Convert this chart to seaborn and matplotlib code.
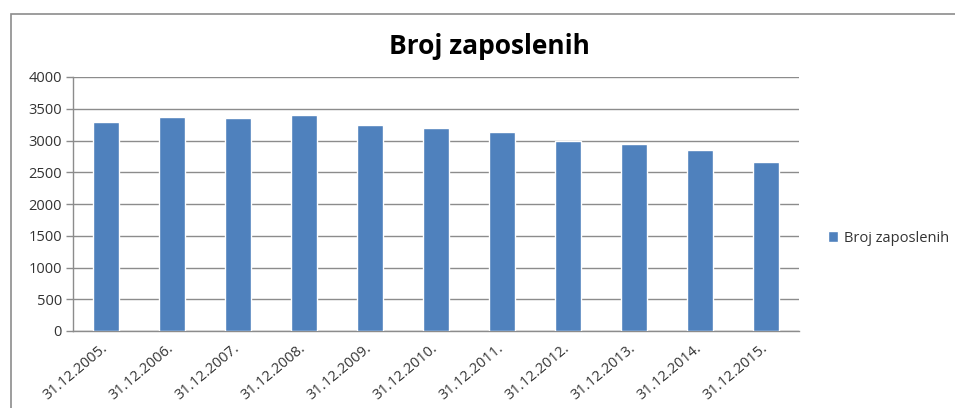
import pandas as pd
import numpy as np
import seaborn as sns
from matplotlib import pyplot as plt
from matplotlib.patches import Rectangle

# values
dates = ['31.12.2005.', '31.12.2006.', '31.12.2007.', '31.12.2008.', '31.12.2009.',
         '31.12.2010.', '31.12.2011.', '31.12.2012.', '31.12.2013.', '31.12.2014.',
         '31.12.2015.']
employees = [3284, 3370, 3347, 3395, 3248, 3190, 3133, 2995, 2943, 2853, 2669]
series_name = 'Broj zaposlenih'
y_ticks = [0, 500, 1000, 1500, 2000, 2500, 3000, 3500, 4000]

data = pd.DataFrame({'datum': dates, 'broj': employees})

sns.set_style('white')
plt.rcParams['font.family'] = ['Open Sans', 'DejaVu Sans']

fig = plt.figure(figsize=(9.55, 4.08), dpi=100)
ax = fig.add_axes([73 / 955, 1 - 331 / 408, (799 - 73) / 955, (331 - 77) / 408])

sns.barplot(data=data, x='datum', y='broj', color='#4F81BD', width=0.39,
            saturation=1, label=series_name, ax=ax, zorder=3)

ax.set_ylim(0, 4000)
ax.set_xlim(-0.5, len(dates) - 0.5)
ax.set_yticks(y_ticks)
ax.set_yticklabels([str(t) for t in y_ticks], fontsize=10.5, color='#333333')
ax.yaxis.grid(True, color='#8c8c8c', linewidth=1, zorder=0)
ax.set_axisbelow(True)
ax.set_xlabel('')
ax.set_ylabel('')

# category labels, ticks sit between categories
ax.set_xticks(range(len(dates)))
ax.set_xticklabels(dates, rotation=40, ha='right', va='center', rotation_mode='anchor',
                   fontsize=10.5, color='#333333')
ax.tick_params(axis='x', length=0, pad=11)
ax.set_xticks(np.arange(-0.5, len(dates), 1), minor=True)
ax.tick_params(axis='x', which='minor', length=5, color='#8c8c8c', width=1)
ax.tick_params(axis='y', length=5, color='#8c8c8c', width=1, left=True, pad=3)

for side in ['top', 'right']:
    ax.spines[side].set_visible(False)
for side in ['left', 'bottom']:
    ax.spines[side].set_color('#8c8c8c')
    ax.spines[side].set_linewidth(1)

fig.text(489 / 955, 1 - 46 / 408, series_name, ha='center', va='center',
         fontsize=19, fontweight='bold', color='black')

leg = ax.legend(loc='center left', bbox_to_anchor=(815 / 955, 1 - 238 / 408),
                bbox_transform=fig.transFigure, frameon=False, fontsize=10.5,
                handlelength=0.7, handleheight=0.7, handletextpad=0.4)
for txt in leg.get_texts():
    txt.set_color('#333333')

# outer frame of the chart area
fig.patches.append(Rectangle((11 / 955, -0.05), 1.0, 1 - 14 / 408 + 0.05,
                             transform=fig.transFigure, fill=False,
                             edgecolor='#8c8c8c', linewidth=1.2))

fig.savefig('out.png', dpi=100)
